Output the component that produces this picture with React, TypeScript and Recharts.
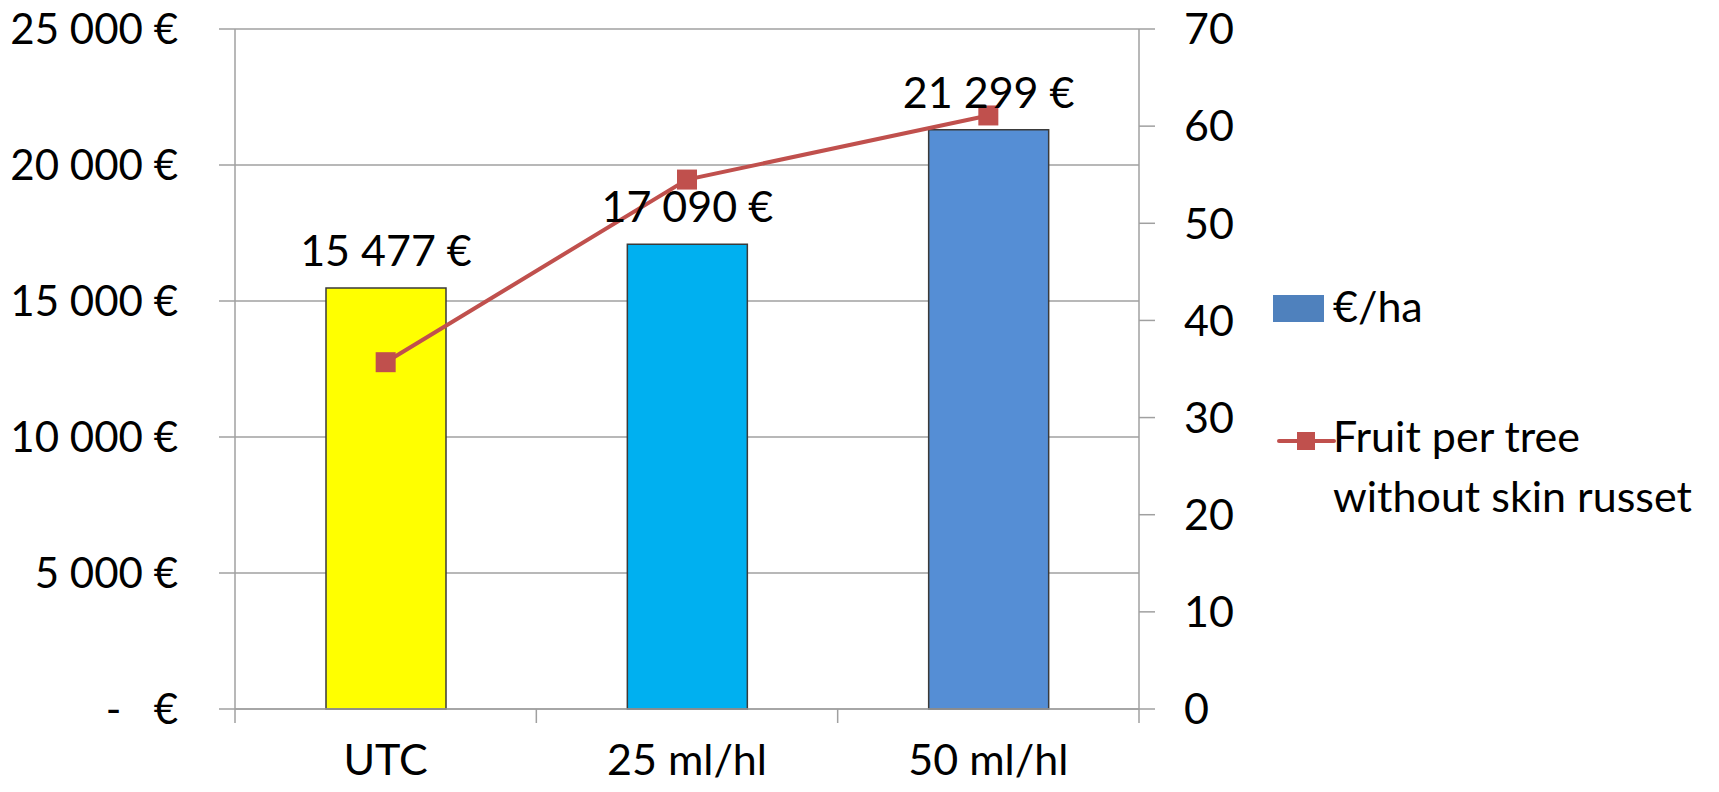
import React from 'react';
import { ComposedChart, Bar, Line, XAxis, YAxis, CartesianGrid, Cell, LabelList, Legend } from 'recharts';

const categories = ['UTC', '25 ml/hl', '50 ml/hl'];
const euroPerHa = [15477, 17090, 21299];
const fruitPerTree = [35.7, 54.5, 61.1];
const barColors = ['#FFFF00', '#00B0F0', '#558ED5'];
const leftTicks = [0, 5000, 10000, 15000, 20000, 25000];
const rightTicks = [0, 10, 20, 30, 40, 50, 60, 70];
const barSeriesName = '€/ha';
const lineSeriesName = ['Fruit per tree', 'without skin russet'];

const data = categories.map((c, i) => ({ cat: c, eur: euroPerHa[i], fruit: fruitPerTree[i] }));

const FONT = 'Lato, "Open Sans", sans-serif';
const FS = 43;
const AXIS_GRAY = '#A0A0A0';
const SHIFT = 10;
const W = 1711;
const H = 784 + SHIFT;
const M = { top: 21 + SHIFT, right: 0, bottom: 0, left: 0 };
const LEFT_W = 227;
const RIGHT_W = 580;
const PLOT_W = W - LEFT_W - RIGHT_W;
const BAND = PLOT_W / categories.length;

const fmtEuro = (v: number) =>
  v === 0 ? '-\u00A0\u00A0\u00A0€' : String(v).replace(/\B(?=(\d{3})+(?!\d))/g, '\u00A0') + '\u00A0€';

const XTick = (props: any) => {
  const { x, y, payload, index } = props;
  const left = x - BAND / 2;
  const right = x + BAND / 2;
  return (
    <g>
      <line x1={left} y1={y} x2={left} y2={y + 14} stroke={AXIS_GRAY} strokeWidth={1.5} />
      {index === categories.length - 1 && (
        <line x1={right} y1={y} x2={right} y2={y + 14} stroke={AXIS_GRAY} strokeWidth={1.5} />
      )}
      <text x={x} y={y + 66} textAnchor="middle" fontSize={FS} fontFamily={FONT} fill="#000">
        {payload.value}
      </text>
    </g>
  );
};

const LeftTick = (props: any) => {
  const { x, y, payload } = props;
  return (
    <text x={x} y={y} dy="0.355em" textAnchor="end" fontSize={42} fontFamily={FONT} fill="#000">
      {fmtEuro(Number(payload.value))}
    </text>
  );
};

const SquareDot = (props: any) => {
  const { cx, cy } = props;
  if (cx == null || cy == null) return null;
  return <rect x={cx - 10} y={cy - 10} width={20} height={20} fill="#C0504D" />;
};

const LegendContent = () => (
  <svg width={450} height={260} style={{ overflow: 'visible' }}>
    <rect x={8} y={17} width={51} height={27} fill="#4F81BD" />
    <text x={68} y={44} fontSize={FS} fontFamily={FONT} fill="#000">{barSeriesName}</text>
    <line x1={14} y1={163} x2={69} y2={163} stroke="#C0504D" strokeWidth={4} strokeLinecap="round" />
    <rect x={32} y={154} width={18} height={18} fill="#C0504D" />
    <text x={68} y={174} fontSize={FS} fontFamily={FONT} fill="#000">{lineSeriesName[0]}</text>
    <text x={68} y={234} fontSize={FS} fontFamily={FONT} fill="#000">{lineSeriesName[1]}</text>
  </svg>
);

export default function App() {
  return (
    <div style={{ width: W, height: H, background: '#fff', marginTop: -SHIFT }}>
      <ComposedChart width={W} height={H} data={data} margin={M} barCategoryGap={0}>
        <CartesianGrid vertical={false} stroke={AXIS_GRAY} strokeWidth={1.5} yAxisId="left" />
        <XAxis
          dataKey="cat"
          stroke={AXIS_GRAY}
          strokeWidth={1.5}
          tickLine={false}
          tickSize={0}
          tickMargin={0}
          height={H - M.top - 680}
          tick={<XTick />}
          interval={0}
        />
        <YAxis
          yAxisId="left"
          orientation="left"
          width={LEFT_W}
          domain={[0, 25000]}
          ticks={leftTicks}
          stroke={AXIS_GRAY}
          strokeWidth={1.5}
          tickSize={16}
          tickMargin={41}
          tick={<LeftTick />}
        />
        <YAxis
          yAxisId="right"
          orientation="right"
          width={RIGHT_W}
          domain={[0, 70]}
          ticks={rightTicks}
          stroke={AXIS_GRAY}
          strokeWidth={1.5}
          tickSize={16}
          tickMargin={29}
          tick={{ fill: '#000', fontSize: FS, fontFamily: FONT }}
        />
        <Legend
          layout="vertical"
          align="center"
          verticalAlign="middle"
          content={<LegendContent />}
          wrapperStyle={{ left: 1257, top: 270 + SHIFT, width: 450, height: 260 }}
        />
        <Bar
          yAxisId="left"
          dataKey="eur"
          name={barSeriesName}
          barSize={120}
          stroke="#3A3A3A"
          strokeWidth={1.5}
          isAnimationActive={false}
        >
          {data.map((d, i) => (
            <Cell key={d.cat} fill={barColors[i]} />
          ))}
          <LabelList
            dataKey="eur"
            position="top"
            offset={22}
            formatter={(v: any) => fmtEuro(Number(v))}
            style={{ fontSize: FS, fontFamily: FONT, fill: '#000' }}
          />
        </Bar>
        <Line
          yAxisId="right"
          dataKey="fruit"
          name={lineSeriesName.join(' ')}
          stroke="#C0504D"
          strokeWidth={4}
          dot={<SquareDot />}
          activeDot={false}
          isAnimationActive={false}
        />
      </ComposedChart>
    </div>
  );
}
